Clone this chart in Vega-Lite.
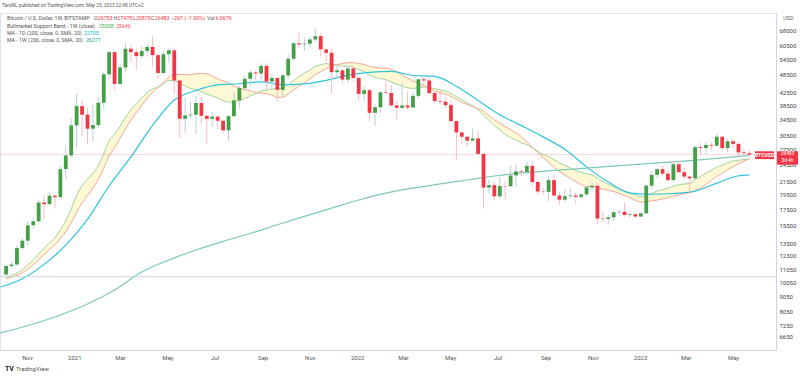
{
  "$schema": "https://vega.github.io/schema/vega-lite/v6.json",
  "width": 776,
  "height": 337,
  "autosize": {"type": "none"},
  "padding": {"left": 0, "top": 13, "right": 24, "bottom": 28},
  "background": "white",
  "config": {"view": {"stroke": "#e0e3eb"}, "font": "Roboto"},
  "title": {"text": "TaroNL published on TradingView.com, May 25, 2023 22:48 UTC+2", "anchor": "start", "frame": "group", "fontSize": 4.8, "fontWeight": "normal", "color": "#555", "font": "Roboto", "offset": 5, "dx": 2},
  "datasets": {
    "w": [
      {"d":"2020-10-05","o":10670,"h":11490,"l":10530,"c":11380,"e":10489,"s":10349},
      {"d":"2020-10-12","o":11380,"h":11730,"l":11220,"c":11500,"e":10581,"s":10439},
      {"d":"2020-10-19","o":11500,"h":13350,"l":11400,"c":13030,"e":10804,"s":10607},
      {"d":"2020-10-26","o":13030,"h":14090,"l":12900,"c":13780,"e":11075,"s":10822},
      {"d":"2020-11-02","o":13780,"h":15980,"l":13300,"c":15480,"e":11475,"s":11131},
      {"d":"2020-11-09","o":15480,"h":16500,"l":15100,"c":15960,"e":11883,"s":11479},
      {"d":"2020-11-16","o":15960,"h":18800,"l":15800,"c":18400,"e":12475,"s":11945},
      {"d":"2020-11-23","o":18400,"h":19480,"l":16200,"c":18180,"e":12994,"s":12392},
      {"d":"2020-11-30","o":18180,"h":19900,"l":18100,"c":19380,"e":13574,"s":12903},
      {"d":"2020-12-07","o":19380,"h":19420,"l":17600,"c":19170,"e":14083,"s":13365},
      {"d":"2020-12-14","o":19170,"h":24300,"l":19000,"c":23700,"e":14957,"s":13998},
      {"d":"2020-12-21","o":23700,"h":28400,"l":21900,"c":26300,"e":15988,"s":14728},
      {"d":"2020-12-28","o":26300,"h":34800,"l":25900,"c":33000,"e":17534,"s":15783},
      {"d":"2021-01-04","o":33000,"h":42000,"l":27700,"c":38200,"e":19413,"s":17111},
      {"d":"2021-01-11","o":38200,"h":40100,"l":30400,"c":35800,"e":20903,"s":18316},
      {"d":"2021-01-18","o":35800,"h":37900,"l":28800,"c":32200,"e":21930,"s":19412},
      {"d":"2021-01-25","o":32200,"h":38500,"l":29200,"c":33100,"e":22945,"s":20550},
      {"d":"2021-02-01","o":33100,"h":40900,"l":32300,"c":39200,"e":24423,"s":21956},
      {"d":"2021-02-08","o":39200,"h":49700,"l":37400,"c":48600,"e":26621,"s":23850},
      {"d":"2021-02-15","o":48600,"h":58400,"l":47000,"c":57500,"e":29428,"s":26194},
      {"d":"2021-02-22","o":57500,"h":57600,"l":43000,"c":45200,"e":30862,"s":27885},
      {"d":"2021-03-01","o":45200,"h":52600,"l":44900,"c":51200,"e":32711,"s":29870},
      {"d":"2021-03-08","o":51200,"h":61800,"l":49300,"c":59000,"e":35101,"s":32168},
      {"d":"2021-03-15","o":59000,"h":60600,"l":53300,"c":57500,"e":37137,"s":34354},
      {"d":"2021-03-22","o":57500,"h":58500,"l":50300,"c":55800,"e":38834,"s":36370},
      {"d":"2021-03-29","o":55800,"h":60200,"l":54800,"c":58000,"e":40576,"s":38472},
      {"d":"2021-04-05","o":58000,"h":61200,"l":55500,"c":59800,"e":42324,"s":40542},
      {"d":"2021-04-12","o":59800,"h":64900,"l":51500,"c":56200,"e":43585,"s":42443},
      {"d":"2021-04-19","o":56200,"h":57000,"l":47000,"c":49100,"e":44086,"s":43929},
      {"d":"2021-04-26","o":49100,"h":58000,"l":48800,"c":56600,"e":45224,"s":45801},
      {"d":"2021-05-03","o":56600,"h":59600,"l":53000,"c":58300,"e":46413,"s":47531},
      {"d":"2021-05-10","o":58300,"h":59500,"l":42000,"c":46400,"e":46412,"s":48536},
      {"d":"2021-05-17","o":46400,"h":46700,"l":30000,"c":34700,"e":45347,"s":48621},
      {"d":"2021-05-24","o":34700,"h":40800,"l":31200,"c":35600,"e":44461,"s":48491},
      {"d":"2021-05-31","o":35600,"h":39500,"l":34800,"c":35800,"e":43674,"s":48491},
      {"d":"2021-06-07","o":35800,"h":41300,"l":31000,"c":39100,"e":43258,"s":48836},
      {"d":"2021-06-14","o":39100,"h":41000,"l":33300,"c":35500,"e":42553,"s":48956},
      {"d":"2021-06-21","o":35500,"h":36000,"l":28800,"c":34700,"e":41839,"s":48731},
      {"d":"2021-06-28","o":34700,"h":36500,"l":32700,"c":35300,"e":41245,"s":48066},
      {"d":"2021-07-05","o":35300,"h":35400,"l":32100,"c":34200,"e":40605,"s":46901},
      {"d":"2021-07-12","o":34200,"h":34400,"l":31000,"c":31800,"e":39805,"s":46231},
      {"d":"2021-07-19","o":31800,"h":35400,"l":29300,"c":35400,"e":39405,"s":45441},
      {"d":"2021-07-26","o":35400,"h":42600,"l":35200,"c":39900,"e":39450,"s":44486},
      {"d":"2021-08-02","o":39900,"h":44700,"l":37600,"c":43800,"e":39845,"s":43801},
      {"d":"2021-08-09","o":43800,"h":48100,"l":42800,"c":47000,"e":40495,"s":43361},
      {"d":"2021-08-16","o":47000,"h":50500,"l":44200,"c":49300,"e":41295,"s":42926},
      {"d":"2021-08-23","o":49300,"h":50000,"l":46400,"c":48900,"e":41986,"s":42381},
      {"d":"2021-08-30","o":48900,"h":52900,"l":46500,"c":51800,"e":42878,"s":42161},
      {"d":"2021-09-06","o":51800,"h":52800,"l":43000,"c":46000,"e":43162,"s":42006},
      {"d":"2021-09-13","o":46000,"h":48800,"l":44000,"c":47300,"e":43538,"s":41541},
      {"d":"2021-09-20","o":47300,"h":47400,"l":39600,"c":43200,"e":43507,"s":40786},
      {"d":"2021-09-27","o":43200,"h":49000,"l":40800,"c":48200,"e":43934,"s":40876},
      {"d":"2021-10-04","o":48200,"h":56600,"l":46900,"c":54700,"e":44913,"s":41876},
      {"d":"2021-10-11","o":54700,"h":62000,"l":53900,"c":61500,"e":46421,"s":43171},
      {"d":"2021-10-18","o":61500,"h":67000,"l":59600,"c":61000,"e":47746,"s":44431},
      {"d":"2021-10-25","o":61000,"h":63700,"l":58000,"c":61300,"e":48978,"s":45541},
      {"d":"2021-11-01","o":61300,"h":64300,"l":59400,"c":63300,"e":50280,"s":46931},
      {"d":"2021-11-08","o":63300,"h":69000,"l":62300,"c":64900,"e":51609,"s":48441},
      {"d":"2021-11-15","o":64900,"h":66300,"l":55600,"c":58700,"e":52254,"s":49611},
      {"d":"2021-11-22","o":58700,"h":59300,"l":53500,"c":57200,"e":52704,"s":50761},
      {"d":"2021-11-29","o":57200,"h":59100,"l":42000,"c":49400,"e":52404,"s":51641},
      {"d":"2021-12-06","o":49400,"h":51900,"l":47100,"c":50100,"e":52195,"s":52376},
      {"d":"2021-12-13","o":50100,"h":50500,"l":45500,"c":46700,"e":51695,"s":52716},
      {"d":"2021-12-20","o":46700,"h":51900,"l":45600,"c":50800,"e":51614,"s":53066},
      {"d":"2021-12-27","o":50800,"h":52000,"l":45900,"c":47300,"e":51222,"s":53081},
      {"d":"2022-01-03","o":47300,"h":47600,"l":39700,"c":41900,"e":50375,"s":52711},
      {"d":"2022-01-10","o":41900,"h":44400,"l":39700,"c":43100,"e":49714,"s":52421},
      {"d":"2022-01-17","o":43100,"h":43500,"l":34000,"c":36300,"e":48495,"s":51646},
      {"d":"2022-01-24","o":36300,"h":38900,"l":32900,"c":37900,"e":47532,"s":51241},
      {"d":"2022-01-31","o":37900,"h":42700,"l":36300,"c":42400,"e":47065,"s":50996},
      {"d":"2022-02-07","o":42400,"h":45800,"l":41700,"c":42200,"e":46623,"s":50946},
      {"d":"2022-02-14","o":42200,"h":44800,"l":38000,"c":38400,"e":45875,"s":50456},
      {"d":"2022-02-21","o":38400,"h":39800,"l":34300,"c":37700,"e":45132,"s":49606},
      {"d":"2022-02-28","o":37700,"h":45400,"l":37500,"c":38400,"e":44520,"s":48451},
      {"d":"2022-03-07","o":38400,"h":42500,"l":37200,"c":37800,"e":43909,"s":47291},
      {"d":"2022-03-14","o":37800,"h":42300,"l":37600,"c":41300,"e":43672,"s":46291},
      {"d":"2022-03-21","o":41300,"h":46900,"l":40500,"c":46800,"e":43956,"s":45466},
      {"d":"2022-03-28","o":46800,"h":48200,"l":44300,"c":46400,"e":44178,"s":44541},
      {"d":"2022-04-04","o":46400,"h":47400,"l":41900,"c":42200,"e":43998,"s":43716},
      {"d":"2022-04-11","o":42200,"h":42400,"l":39200,"c":39700,"e":43607,"s":42841},
      {"d":"2022-04-18","o":39700,"h":42900,"l":38600,"c":39500,"e":43234,"s":42346},
      {"d":"2022-04-25","o":39500,"h":40800,"l":37600,"c":38500,"e":42804,"s":41766},
      {"d":"2022-05-02","o":38500,"h":40000,"l":33700,"c":34100,"e":42013,"s":41136},
      {"d":"2022-05-09","o":34100,"h":34200,"l":25400,"c":31300,"e":41039,"s":40161},
      {"d":"2022-05-16","o":31300,"h":31300,"l":28700,"c":30300,"e":40063,"s":39311},
      {"d":"2022-05-23","o":30300,"h":30600,"l":28000,"c":29400,"e":39094,"s":38686},
      {"d":"2022-05-30","o":29400,"h":32300,"l":29300,"c":29900,"e":38258,"s":38026},
      {"d":"2022-06-06","o":29900,"h":31700,"l":26550,"c":26600,"e":37198,"s":37541},
      {"d":"2022-06-13","o":26600,"h":26700,"l":17600,"c":20600,"e":35689,"s":36676},
      {"d":"2022-06-20","o":20600,"h":21900,"l":19700,"c":21000,"e":34354,"s":35606},
      {"d":"2022-06-27","o":21000,"h":21500,"l":18700,"c":19300,"e":32985,"s":34461},
      {"d":"2022-07-04","o":19300,"h":22400,"l":19000,"c":20850,"e":31882,"s":33584},
      {"d":"2022-07-11","o":20850,"h":21600,"l":18900,"c":20800,"e":30875,"s":32739},
      {"d":"2022-07-18","o":20800,"h":24300,"l":20700,"c":22600,"e":30123,"s":31949},
      {"d":"2022-07-25","o":22600,"h":24600,"l":20700,"c":23300,"e":29503,"s":31224},
      {"d":"2022-08-01","o":23300,"h":23600,"l":22500,"c":23200,"e":28930,"s":30319},
      {"d":"2022-08-08","o":23200,"h":25200,"l":22700,"c":24300,"e":28509,"s":29194},
      {"d":"2022-08-15","o":24300,"h":25100,"l":20800,"c":21500,"e":27872,"s":27949},
      {"d":"2022-08-22","o":21500,"h":21800,"l":19600,"c":20000,"e":27156,"s":26839},
      {"d":"2022-08-29","o":20000,"h":20600,"l":19500,"c":19950,"e":26501,"s":25851},
      {"d":"2022-09-05","o":19950,"h":22400,"l":18600,"c":21800,"e":26074,"s":24966},
      {"d":"2022-09-12","o":21800,"h":22800,"l":19300,"c":19400,"e":25467,"s":24011},
      {"d":"2022-09-19","o":19400,"h":19900,"l":18100,"c":18800,"e":24861,"s":23246},
      {"d":"2022-09-26","o":18800,"h":20400,"l":18500,"c":19300,"e":24355,"s":22646},
      {"d":"2022-10-03","o":19300,"h":20500,"l":19000,"c":19400,"e":23905,"s":22101},
      {"d":"2022-10-10","o":19400,"h":19900,"l":18200,"c":19200,"e":23477,"s":21591},
      {"d":"2022-10-17","o":19200,"h":19700,"l":18900,"c":19570,"e":23122,"s":21075},
      {"d":"2022-10-24","o":19570,"h":20900,"l":19300,"c":20630,"e":22895,"s":20776},
      {"d":"2022-10-31","o":20630,"h":21500,"l":20000,"c":20900,"e":22714,"s":20791},
      {"d":"2022-11-07","o":20900,"h":21400,"l":15600,"c":16300,"e":22131,"s":20556},
      {"d":"2022-11-14","o":16300,"h":17200,"l":15800,"c":16250,"e":21596,"s":20404},
      {"d":"2022-11-21","o":16250,"h":16800,"l":15500,"c":16450,"e":21128,"s":20184},
      {"d":"2022-11-28","o":16450,"h":17400,"l":16000,"c":17100,"e":20762,"s":19999},
      {"d":"2022-12-05","o":17100,"h":17400,"l":16700,"c":17150,"e":20429,"s":19724},
      {"d":"2022-12-12","o":17150,"h":18400,"l":16500,"c":16750,"e":20095,"s":19396},
      {"d":"2022-12-19","o":16750,"h":17000,"l":16500,"c":16840,"e":19799,"s":19078},
      {"d":"2022-12-26","o":16840,"h":16950,"l":16400,"c":16550,"e":19504,"s":18691},
      {"d":"2023-01-02","o":16550,"h":17100,"l":16500,"c":16950,"e":19272,"s":18463},
      {"d":"2023-01-09","o":16950,"h":21300,"l":16900,"c":20900,"e":19420,"s":18508},
      {"d":"2023-01-16","o":20900,"h":23400,"l":20400,"c":22700,"e":19718,"s":18646},
      {"d":"2023-01-23","o":22700,"h":23800,"l":22300,"c":23700,"e":20080,"s":18741},
      {"d":"2023-01-30","o":23700,"h":24300,"l":22500,"c":22900,"e":20336,"s":18916},
      {"d":"2023-02-06","o":22900,"h":23500,"l":21400,"c":21800,"e":20469,"s":19066},
      {"d":"2023-02-13","o":21800,"h":25200,"l":21500,"c":24600,"e":20845,"s":19331},
      {"d":"2023-02-20","o":24600,"h":25300,"l":23100,"c":23150,"e":21055,"s":19519},
      {"d":"2023-02-27","o":23150,"h":23900,"l":21900,"c":22400,"e":21177,"s":19679},
      {"d":"2023-03-06","o":22400,"h":22600,"l":19600,"c":22100,"e":21261,"s":19805},
      {"d":"2023-03-13","o":22100,"h":28400,"l":21900,"c":28000,"e":21874,"s":20174},
      {"d":"2023-03-20","o":28000,"h":28900,"l":26600,"c":27800,"e":22413,"s":20519},
      {"d":"2023-03-27","o":27800,"h":29200,"l":26500,"c":28450,"e":22962,"s":21126},
      {"d":"2023-04-03","o":28450,"h":29100,"l":27200,"c":28300,"e":23447,"s":21729},
      {"d":"2023-04-10","o":28300,"h":31000,"l":28200,"c":30300,"e":24070,"s":22421},
      {"d":"2023-04-17","o":30300,"h":30500,"l":27100,"c":27800,"e":24409,"s":22956},
      {"d":"2023-04-24","o":27800,"h":30000,"l":26900,"c":29250,"e":24849,"s":23564},
      {"d":"2023-05-01","o":29250,"h":29800,"l":27700,"c":28700,"e":25199,"s":24161},
      {"d":"2023-05-08","o":28700,"h":29000,"l":25800,"c":26900,"e":25354,"s":24664},
      {"d":"2023-05-15","o":26900,"h":27600,"l":26100,"c":26750,"e":25481,"s":25174},
      {"d":"2023-05-22","o":26753,"h":27478,"l":25878,"c":26483,"e":25558,"s":25646}
    ],
    "d200": [
      {"d":"2020-09-28","v":9700},{"d":"2020-10-26","v":10333},{"d":"2020-11-23","v":11518},
      {"d":"2020-12-21","v":13322},{"d":"2021-01-18","v":16200},{"d":"2021-02-15","v":20900},
      {"d":"2021-03-15","v":26000},{"d":"2021-04-12","v":33000},{"d":"2021-05-10","v":40000},
      {"d":"2021-06-07","v":43016},{"d":"2021-07-05","v":44843},{"d":"2021-08-02","v":45261},
      {"d":"2021-08-30","v":45925},{"d":"2021-09-27","v":44918},{"d":"2021-10-25","v":45229},
      {"d":"2021-11-22","v":46432},{"d":"2021-12-20","v":48282},{"d":"2022-01-17","v":49314},
      {"d":"2022-02-14","v":49671},{"d":"2022-03-14","v":48179},{"d":"2022-04-11","v":47836},
      {"d":"2022-05-09","v":44439},{"d":"2022-06-06","v":39871},{"d":"2022-07-04","v":35755},
      {"d":"2022-08-01","v":32945},{"d":"2022-08-29","v":30261},{"d":"2022-09-26","v":27550},
      {"d":"2022-10-24","v":24111},{"d":"2022-11-21","v":21486},{"d":"2022-12-19","v":19757},
      {"d":"2023-01-16","v":19591},{"d":"2023-02-13","v":19701},{"d":"2023-03-13","v":20055},
      {"d":"2023-04-10","v":21325},{"d":"2023-05-08","v":22534},{"d":"2023-05-22","v":22705}
    ],
    "w200": [
      {"d":"2020-09-28","v":6850},{"d":"2020-11-09","v":7330},{"d":"2020-12-14","v":7850},
      {"d":"2021-01-18","v":8530},{"d":"2021-02-22","v":9490},{"d":"2021-03-29","v":10870},
      {"d":"2021-05-03","v":11910},{"d":"2021-06-07","v":12840},{"d":"2021-07-12","v":13710},
      {"d":"2021-08-16","v":14550},{"d":"2021-09-20","v":15550},{"d":"2021-10-25","v":16570},
      {"d":"2021-11-29","v":17640},{"d":"2022-01-03","v":18760},{"d":"2022-02-07","v":19770},
      {"d":"2022-03-14","v":20530},{"d":"2022-04-18","v":21180},{"d":"2022-05-23","v":21830},
      {"d":"2022-06-27","v":22500},{"d":"2022-08-01","v":23020},{"d":"2022-09-05","v":23380},
      {"d":"2022-11-14","v":24100},{"d":"2023-01-23","v":24840},{"d":"2023-04-03","v":25600},
      {"d":"2023-05-22","v":26277}
    ]
  },
  "layer": [
    {
      "data": {"name": "w"},
      "mark": {"type": "area", "color": "#fff3b8", "opacity": 0.6, "interpolate": "monotone"},
      "encoding": {
        "x": {"field": "d", "type": "temporal",
          "scale": {"type": "utc", "nice": false, "padding": 0, "domain": [{"year":2020,"month":9,"date":27,"hours":3,"utc":true},{"year":2023,"month":6,"date":25,"hours":10,"utc":true}]},
          "axis": {"tickCount": {"interval": "month", "step": 2}, "labelExpr": "utcFormat(datum.value, '%m') == '01' ? utcFormat(datum.value, '%Y') : utcFormat(datum.value, '%b')", "ticks": false, "grid": false, "domainColor": "#d1d4dc", "labelFontSize": 6, "labelColor": "#555", "labelPadding": 4, "title": null, "labelFont": "Roboto", "labelFlush": false}},
        "y": {"field": "e", "type": "quantitative",
          "scale": {"type": "log", "nice": false, "padding": 0, "domain": [6020, 77350], "zero": false},
          "axis": {"orient": "right", "values": [68000,60500,54500,48500,42500,38500,34500,30500,27500,24500,21500,19500,17500,15500,13500,12300,11050,10050,9050,8050,7250,6650,6000], "format": "d", "ticks": false, "grid": false, "domainColor": "#d1d4dc", "labelFontSize": 6, "labelColor": "#444", "labelPadding": 3, "labelOverlap": false, "labelBound": false, "labelFlush": false, "labelFont": "Roboto", "title": "USD", "titleAngle": 0, "titleX": 12, "titleY": 4, "titleAlign": "center", "titleBaseline": "middle", "titleFontSize": 5.5, "titleFontWeight": "normal", "titleColor": "#666", "titleFont": "Roboto"}},
        "y2": {"field": "s"}
      }
    },
    {
      "data": {"name": "w"},
      "mark": {"type": "line", "color": "#9fd49f", "strokeWidth": 1, "interpolate": "monotone"},
      "encoding": {"x": {"field": "d", "type": "temporal"}, "y": {"field": "e", "type": "quantitative"}}
    },
    {
      "data": {"name": "w"},
      "mark": {"type": "line", "color": "#f7a596", "strokeWidth": 1, "interpolate": "monotone"},
      "encoding": {"x": {"field": "d", "type": "temporal"}, "y": {"field": "s", "type": "quantitative"}}
    },
    {
      "data": {"name": "d200"},
      "mark": {"type": "line", "color": "#2ec4dc", "strokeWidth": 1.2, "interpolate": "monotone"},
      "encoding": {"x": {"field": "d", "type": "temporal"}, "y": {"field": "v", "type": "quantitative"}}
    },
    {
      "data": {"name": "w200"},
      "mark": {"type": "line", "color": "#7cc9b8", "strokeWidth": 1.2, "interpolate": "monotone"},
      "encoding": {"x": {"field": "d", "type": "temporal"}, "y": {"field": "v", "type": "quantitative"}}
    },
    {
      "data": {"values": [{}]},
      "mark": {"type": "rule", "color": "#f23645", "opacity": 0.2, "strokeWidth": 1},
      "encoding": {"y": {"datum": 26483, "type": "quantitative"}}
    },
    {
      "data": {"values": [{}]},
      "mark": {"type": "rule", "color": "#d1d4dc", "strokeWidth": 1},
      "encoding": {"y": {"datum": 10490, "type": "quantitative"}}
    },
    {
      "data": {"name": "w"},
      "mark": {"type": "rule", "strokeWidth": 1},
      "encoding": {
        "x": {"field": "d", "type": "temporal"},
        "y": {"field": "l", "type": "quantitative"},
        "y2": {"field": "h"},
        "color": {"condition": {"test": "datum.c >= datum.o", "value": "#b9d0db"}, "value": "#f9bcc0"}
      }
    },
    {
      "data": {"name": "w"},
      "mark": {"type": "bar", "size": 3.8},
      "encoding": {
        "x": {"field": "d", "type": "temporal"},
        "y": {"field": "o", "type": "quantitative"},
        "y2": {"field": "c"},
        "color": {"condition": {"test": "datum.c >= datum.o", "value": "#43a047"}, "value": "#f23645"}
      }
    },
    {
      "data": {"values": [{}]},
      "mark": {"type": "rect", "color": "#f23645"},
      "encoding": {
        "x": {"datum": {"year":2023,"month":5,"date":29,"hours":8,"utc":true}, "type": "temporal"},
        "x2": {"datum": {"year":2023,"month":6,"date":22,"hours":20,"utc":true}},
        "y": {"datum": 27130, "type": "quantitative"},
        "y2": {"datum": 25570}
      }
    },
    {
      "data": {"values": [{}]},
      "mark": {"type": "text", "color": "white", "fontSize": 5, "fontWeight": "bold", "font": "Roboto", "align": "center", "baseline": "middle"},
      "encoding": {
        "x": {"datum": {"year":2023,"month":6,"date":10,"hours":14,"utc":true}, "type": "temporal"},
        "y": {"datum": 26400, "type": "quantitative"},
        "text": {"value": "BTCUSD"}
      }
    },
    {
      "data": {"values": [{}]},
      "mark": {"type": "point", "shape": "M0.1,-0.32L2.2,-0.32L2.2,1.02L0.1,1.02Z", "filled": true, "color": "#f23645", "opacity": 1, "size": 400, "strokeWidth": 0},
      "encoding": {
        "x": {"datum": {"year":2023,"month":6,"date":25,"hours":10,"utc":true}, "type": "temporal"},
        "y": {"datum": 26483, "type": "quantitative"}
      }
    },
    {
      "data": {"values": [{}]},
      "mark": {"type": "text", "color": "white", "fontSize": 4.8, "font": "Roboto", "align": "center", "baseline": "middle", "dx": 11.5, "dy": -0.6},
      "encoding": {
        "x": {"datum": {"year":2023,"month":6,"date":25,"hours":10,"utc":true}, "type": "temporal"},
        "y": {"datum": 26483, "type": "quantitative"},
        "text": {"value": "26483"}
      }
    },
    {
      "data": {"values": [{}]},
      "mark": {"type": "text", "color": "white", "fontSize": 4.8, "font": "Roboto", "align": "center", "baseline": "middle", "dx": 11.5, "dy": 6.4},
      "encoding": {
        "x": {"datum": {"year":2023,"month":6,"date":25,"hours":10,"utc":true}, "type": "temporal"},
        "y": {"datum": 26483, "type": "quantitative"},
        "text": {"value": "3d 4h"}
      }
    },
    {"data": {"values": [{}]}, "mark": {"type": "text", "color": "#555", "fontSize": 5.3, "font": "Roboto", "align": "left", "baseline": "middle", "dx": 0},
      "encoding": {"x": {"datum": {"year":2020,"month":10,"date":6,"utc":true}, "type": "temporal"}, "y": {"datum": 74470, "type": "quantitative"}, "text": {"value": "Bitcoin / U.S. Dollar, 1W, BITSTAMP"}}},
    {"data": {"values": [{}]}, "mark": {"type": "text", "color": "#555", "fontSize": 5.3, "font": "Roboto", "align": "left", "baseline": "middle", "dx": 87},
      "encoding": {"x": {"datum": {"year":2020,"month":10,"date":6,"utc":true}, "type": "temporal"}, "y": {"datum": 74470, "type": "quantitative"}, "text": {"value": "O"}}},
    {"data": {"values": [{}]}, "mark": {"type": "text", "color": "#f23645", "fontSize": 5.3, "font": "Roboto", "align": "left", "baseline": "middle", "dx": 90.8},
      "encoding": {"x": {"datum": {"year":2020,"month":10,"date":6,"utc":true}, "type": "temporal"}, "y": {"datum": 74470, "type": "quantitative"}, "text": {"value": "26753"}}},
    {"data": {"values": [{}]}, "mark": {"type": "text", "color": "#555", "fontSize": 5.3, "font": "Roboto", "align": "left", "baseline": "middle", "dx": 106.5},
      "encoding": {"x": {"datum": {"year":2020,"month":10,"date":6,"utc":true}, "type": "temporal"}, "y": {"datum": 74470, "type": "quantitative"}, "text": {"value": "H"}}},
    {"data": {"values": [{}]}, "mark": {"type": "text", "color": "#f23645", "fontSize": 5.3, "font": "Roboto", "align": "left", "baseline": "middle", "dx": 110.4},
      "encoding": {"x": {"datum": {"year":2020,"month":10,"date":6,"utc":true}, "type": "temporal"}, "y": {"datum": 74470, "type": "quantitative"}, "text": {"value": "27478"}}},
    {"data": {"values": [{}]}, "mark": {"type": "text", "color": "#555", "fontSize": 5.3, "font": "Roboto", "align": "left", "baseline": "middle", "dx": 126},
      "encoding": {"x": {"datum": {"year":2020,"month":10,"date":6,"utc":true}, "type": "temporal"}, "y": {"datum": 74470, "type": "quantitative"}, "text": {"value": "L"}}},
    {"data": {"values": [{}]}, "mark": {"type": "text", "color": "#f23645", "fontSize": 5.3, "font": "Roboto", "align": "left", "baseline": "middle", "dx": 129},
      "encoding": {"x": {"datum": {"year":2020,"month":10,"date":6,"utc":true}, "type": "temporal"}, "y": {"datum": 74470, "type": "quantitative"}, "text": {"value": "25878"}}},
    {"data": {"values": [{}]}, "mark": {"type": "text", "color": "#555", "fontSize": 5.3, "font": "Roboto", "align": "left", "baseline": "middle", "dx": 144},
      "encoding": {"x": {"datum": {"year":2020,"month":10,"date":6,"utc":true}, "type": "temporal"}, "y": {"datum": 74470, "type": "quantitative"}, "text": {"value": "C"}}},
    {"data": {"values": [{}]}, "mark": {"type": "text", "color": "#f23645", "fontSize": 5.3, "font": "Roboto", "align": "left", "baseline": "middle", "dx": 147.8},
      "encoding": {"x": {"datum": {"year":2020,"month":10,"date":6,"utc":true}, "type": "temporal"}, "y": {"datum": 74470, "type": "quantitative"}, "text": {"value": "26483 −267 (−1.00%)"}}},
    {"data": {"values": [{}]}, "mark": {"type": "text", "color": "#555", "fontSize": 5.3, "font": "Roboto", "align": "left", "baseline": "middle", "dx": 200},
      "encoding": {"x": {"datum": {"year":2020,"month":10,"date":6,"utc":true}, "type": "temporal"}, "y": {"datum": 74470, "type": "quantitative"}, "text": {"value": "Vol"}}},
    {"data": {"values": [{}]}, "mark": {"type": "text", "color": "#f23645", "fontSize": 5.3, "font": "Roboto", "align": "left", "baseline": "middle", "dx": 208.5},
      "encoding": {"x": {"datum": {"year":2020,"month":10,"date":6,"utc":true}, "type": "temporal"}, "y": {"datum": 74470, "type": "quantitative"}, "text": {"value": "6.067K"}}},
    {"data": {"values": [{}]}, "mark": {"type": "text", "color": "#555", "fontSize": 5.3, "font": "Roboto", "align": "left", "baseline": "middle"},
      "encoding": {"x": {"datum": {"year":2020,"month":10,"date":6,"utc":true}, "type": "temporal"}, "y": {"datum": 70360, "type": "quantitative"}, "text": {"value": "Bullmarket Support Band - 1W (close)"}}},
    {"data": {"values": [{}]}, "mark": {"type": "text", "color": "#4caf50", "fontSize": 5.3, "font": "Roboto", "align": "left", "baseline": "middle", "dx": 92},
      "encoding": {"x": {"datum": {"year":2020,"month":10,"date":6,"utc":true}, "type": "temporal"}, "y": {"datum": 70360, "type": "quantitative"}, "text": {"value": "25558"}}},
    {"data": {"values": [{}]}, "mark": {"type": "text", "color": "#f7525f", "fontSize": 5.3, "font": "Roboto", "align": "left", "baseline": "middle", "dx": 109},
      "encoding": {"x": {"datum": {"year":2020,"month":10,"date":6,"utc":true}, "type": "temporal"}, "y": {"datum": 70360, "type": "quantitative"}, "text": {"value": "25646"}}},
    {"data": {"values": [{}]}, "mark": {"type": "text", "color": "#555", "fontSize": 5.3, "font": "Roboto", "align": "left", "baseline": "middle"},
      "encoding": {"x": {"datum": {"year":2020,"month":10,"date":6,"utc":true}, "type": "temporal"}, "y": {"datum": 66470, "type": "quantitative"}, "text": {"value": "MA - 1D (200, close, 0, SMA, 20)"}}},
    {"data": {"values": [{}]}, "mark": {"type": "text", "color": "#00bcd4", "fontSize": 5.3, "font": "Roboto", "align": "left", "baseline": "middle", "dx": 77},
      "encoding": {"x": {"datum": {"year":2020,"month":10,"date":6,"utc":true}, "type": "temporal"}, "y": {"datum": 66470, "type": "quantitative"}, "text": {"value": "22705"}}},
    {"data": {"values": [{}]}, "mark": {"type": "text", "color": "#555", "fontSize": 5.3, "font": "Roboto", "align": "left", "baseline": "middle"},
      "encoding": {"x": {"datum": {"year":2020,"month":10,"date":6,"utc":true}, "type": "temporal"}, "y": {"datum": 63040, "type": "quantitative"}, "text": {"value": "MA - 1W (200, close, 0, SMA, 20)"}}},
    {"data": {"values": [{}]}, "mark": {"type": "text", "color": "#26a69a", "fontSize": 5.3, "font": "Roboto", "align": "left", "baseline": "middle", "dx": 79},
      "encoding": {"x": {"datum": {"year":2020,"month":10,"date":6,"utc":true}, "type": "temporal"}, "y": {"datum": 63040, "type": "quantitative"}, "text": {"value": "26277"}}},
    {"data": {"values": [{}]}, "mark": {"type": "text", "color": "#131722", "fontSize": 7, "fontWeight": "bold", "font": "Roboto", "align": "left", "baseline": "middle", "dx": -2, "dy": 19},
      "encoding": {"x": {"datum": {"year":2020,"month":10,"date":6,"utc":true}, "type": "temporal"}, "y": {"datum": 6020, "type": "quantitative"}, "text": {"value": "TV"}}},
    {"data": {"values": [{}]}, "mark": {"type": "text", "color": "#555", "fontSize": 6, "font": "Roboto", "align": "left", "baseline": "middle", "dx": 9, "dy": 19},
      "encoding": {"x": {"datum": {"year":2020,"month":10,"date":6,"utc":true}, "type": "temporal"}, "y": {"datum": 6020, "type": "quantitative"}, "text": {"value": "TradingView"}}}
  ]
}
